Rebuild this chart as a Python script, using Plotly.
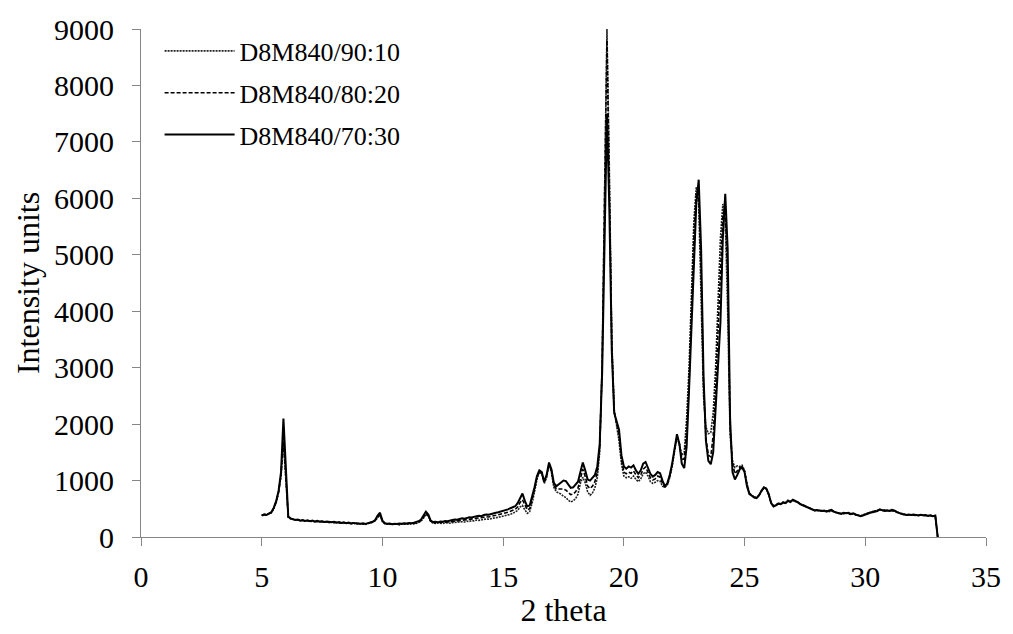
import numpy as np
import plotly.graph_objects as go

# 2-theta sampling grid (0.1 deg steps from 5.0 to 33.0)
two_theta = np.round(np.arange(5.0, 33.0001, 0.1), 1)

series_names = ["D8M840/90:10", "D8M840/80:20", "D8M840/70:30"]

# D8M840/90:10 (dotted)
y_90_10 = [
    390, 380, 400, 410, 430, 500, 610, 790, 1080, 1680,
    1000, 350, 320, 310, 305, 300, 295, 290, 290, 280,
    285, 275, 280, 270, 265, 275, 260, 270, 255, 265,
    250, 260, 245, 255, 240, 250, 245, 235, 245, 230,
    240, 230, 235, 225, 240, 245, 260, 290, 350, 390,
    270, 235, 225, 230, 220, 230, 225, 215, 230, 225,
    230, 225, 235, 230, 240, 255, 280, 330, 400, 370,
    270, 245, 240, 250, 245, 240, 255, 250, 245, 255,
    260, 255, 265, 270, 265, 280, 275, 290, 285, 300,
    295, 305, 310, 320, 315, 330, 335, 340, 350, 360,
    360, 375, 390, 400, 420, 440, 470, 530, 560, 480,
    420, 450, 600, 800, 1020, 1150, 1120, 950, 1050, 1280,
    1150, 880, 800, 780, 760, 720, 700, 650, 620, 640,
    680, 760, 950, 1060, 960, 800, 740, 780, 870, 1050,
    1500, 3100, 6300, 9000, 6500, 3500, 2250, 1950, 1700, 1300,
    1080, 1050, 1070, 1040, 1080, 1020, 980, 1030, 1120, 1150,
    1080, 980, 950, 970, 1000, 990, 900, 880, 920, 1050,
    1250, 1550, 1750, 1650, 1450, 1500, 2100, 3000, 4400, 5600,
    6200, 5900, 4200, 2500, 1950, 1830, 1850, 2200, 3000, 4200,
    5300, 5900, 5600, 4000, 1800, 1350, 1230, 1260, 1250, 1270,
    1180, 950, 780, 740, 710, 700, 740, 810, 870, 850,
    750, 610, 550, 570, 600, 590, 620, 610, 650, 630,
    650, 630, 610, 590, 570, 550, 520, 500, 480, 470,
    470, 460, 470, 455, 460, 450, 460, 440, 430, 425,
    420, 410, 425, 415, 400, 410, 390, 385, 375, 390,
    410, 425, 440, 450, 460, 470, 480, 470, 480, 475,
    470, 470, 460, 450, 430, 415, 405, 395, 390, 395,
    390, 395, 385, 390, 380, 385, 370, 380, 375, 370,
    0,
]

# D8M840/80:20 (dashed)
y_80_20 = [
    385, 395, 395, 415, 435, 510, 625, 800, 1100, 1750,
    1050, 355, 325, 315, 300, 305, 290, 295, 285, 290,
    280, 285, 275, 280, 270, 275, 265, 270, 260, 265,
    260, 255, 255, 250, 250, 245, 250, 240, 245, 240,
    235, 240, 230, 235, 245, 250, 265, 295, 360, 400,
    280, 240, 230, 235, 225, 230, 230, 225, 235, 235,
    235, 240, 240, 245, 250, 265, 295, 350, 420, 380,
    280, 255, 255, 260, 260, 255, 265, 265, 270, 275,
    285, 280, 290, 300, 295, 310, 315, 320, 325, 335,
    335, 340, 350, 360, 355, 370, 375, 385, 395, 405,
    410, 425, 440, 455, 475, 490, 530, 610, 660, 560,
    480, 500, 650, 840, 1050, 1170, 1140, 970, 1080, 1300,
    1180, 920, 850, 850, 860, 850, 830, 780, 750, 760,
    800, 870, 1050, 1200, 1070, 900, 860, 900, 980, 1150,
    1580, 3000, 6000, 8800, 6200, 3400, 2220, 2000, 1800, 1380,
    1150, 1120, 1150, 1130, 1170, 1100, 1050, 1100, 1200, 1240,
    1150, 1050, 1010, 1030, 1080, 1060, 950, 890, 930, 1070,
    1270, 1570, 1780, 1650, 1380, 1380, 1850, 2700, 4000, 5300,
    6100, 6100, 4700, 2700, 1750, 1450, 1420, 1800, 2600, 3700,
    4700, 5700, 5850, 4600, 1950, 1300, 1120, 1180, 1230, 1250,
    1160, 920, 770, 735, 705, 695, 740, 815, 875, 855,
    755, 605, 545, 565, 595, 585, 615, 605, 645, 625,
    655, 635, 615, 585, 565, 545, 525, 505, 485, 470,
    475, 465, 465, 460, 455, 460, 470, 445, 430, 420,
    415, 420, 420, 420, 405, 415, 395, 380, 370, 385,
    405, 420, 435, 445, 455, 465, 485, 470, 470, 470,
    465, 475, 465, 445, 425, 410, 400, 390, 395, 390,
    395, 390, 380, 390, 380, 385, 370, 380, 370, 375,
    0,
]

# D8M840/70:30 (solid)
y_70_30 = [
    380, 400, 390, 420, 440, 520, 640, 820, 1150, 2100,
    1100, 360, 330, 320, 300, 310, 290, 300, 285, 295,
    280, 290, 270, 285, 275, 280, 265, 275, 270, 260,
    270, 255, 265, 250, 260, 245, 255, 240, 250, 245,
    240, 235, 245, 230, 245, 255, 270, 300, 380, 430,
    290, 245, 235, 240, 225, 235, 230, 240, 235, 245,
    240, 250, 245, 255, 265, 280, 310, 370, 450, 400,
    290, 265, 270, 260, 275, 270, 285, 280, 295, 300,
    310, 305, 320, 330, 325, 340, 350, 345, 360, 370,
    375, 370, 390, 400, 395, 410, 420, 430, 440, 450,
    460, 475, 490, 510, 530, 545, 600, 700, 770, 640,
    540, 560, 700, 880, 1080, 1180, 1150, 980, 1100, 1320,
    1200, 960, 900, 930, 960, 1000, 990, 920, 870, 880,
    930, 980, 1150, 1320, 1180, 1020, 1000, 1050, 1100, 1250,
    1650, 2900, 5600, 7500, 5800, 3300, 2200, 2060, 1900, 1450,
    1250, 1210, 1250, 1230, 1270, 1180, 1120, 1180, 1300, 1330,
    1220, 1120, 1070, 1100, 1150, 1130, 1000, 900, 950, 1100,
    1300, 1600, 1820, 1650, 1300, 1220, 1600, 2600, 3800, 5000,
    5900, 6330, 5100, 2850, 1700, 1350, 1290, 1500, 2200, 2900,
    3800, 5300, 6080, 5100, 2100, 1150, 1020, 1100, 1200, 1230,
    1150, 900, 760, 730, 700, 690, 740, 820, 880, 860,
    760, 600, 540, 560, 590, 580, 610, 600, 640, 620,
    660, 640, 620, 580, 560, 540, 530, 510, 490, 470,
    480, 470, 460, 470, 450, 470, 480, 450, 430, 420,
    410, 430, 420, 430, 410, 420, 400, 380, 370, 380,
    400, 420, 430, 440, 450, 460, 490, 470, 460, 470,
    460, 480, 470, 440, 420, 410, 400, 390, 400, 390,
    400, 390, 380, 395, 385, 390, 375, 385, 370, 380,
    0,
]

x_ticks = [0, 5, 10, 15, 20, 25, 30, 35]
y_ticks = [0, 1000, 2000, 3000, 4000, 5000, 6000, 7000, 8000, 9000]

styles = [
    dict(color="#222222", width=1.6, dash="2px,1px"),
    dict(color="black", width=1.6, dash="4px,2px"),
    dict(color="black", width=2.0, dash="solid"),
]

fig = go.Figure()
for i, (name, ys) in enumerate(zip(series_names, [y_90_10, y_80_20, y_70_30])):
    fig.add_trace(go.Scatter(
        x=two_theta, y=ys, mode="lines", name=name,
        line=styles[i], legendgroup=f"g{i}",
    ))

font_family = "Liberation Serif"
axis_col = "#868686"
tick_font = dict(family=font_family, size=30, color="black")
title_font = dict(family=font_family, size=32, color="black")

fig.update_layout(
    width=1013, height=634,
    margin=dict(l=141, r=20, t=27, b=97),
    paper_bgcolor="white", plot_bgcolor="white",
    font=dict(family=font_family, size=30, color="black"),
    showlegend=True,
    legend=dict(
        x=0.022, y=1.003, xanchor="left", yanchor="top",
        bgcolor="rgba(0,0,0,0)", font=dict(size=26, family=font_family, color="black"),
        traceorder="grouped", tracegroupgap=5, itemwidth=70,
    ),
    xaxis=dict(
        range=[0, 35], tickvals=x_ticks, showline=True, linecolor=axis_col,
        linewidth=1, ticks="outside", ticklen=8, tickcolor=axis_col,
        showgrid=False, zeroline=False,
        title=dict(text="2 theta", standoff=6, font=title_font),
        tickfont=tick_font, ticklabelstandoff=5,
    ),
    yaxis=dict(
        range=[0, 9000], tickvals=y_ticks, showline=True, linecolor=axis_col,
        linewidth=1, ticks="outside", ticklen=8, tickcolor=axis_col,
        showgrid=False, zeroline=False,
        title=dict(text="Intensity units", standoff=4, font=title_font),
        tickfont=tick_font, ticklabelstandoff=12,
    ),
)

fig.write_html("out.html")
